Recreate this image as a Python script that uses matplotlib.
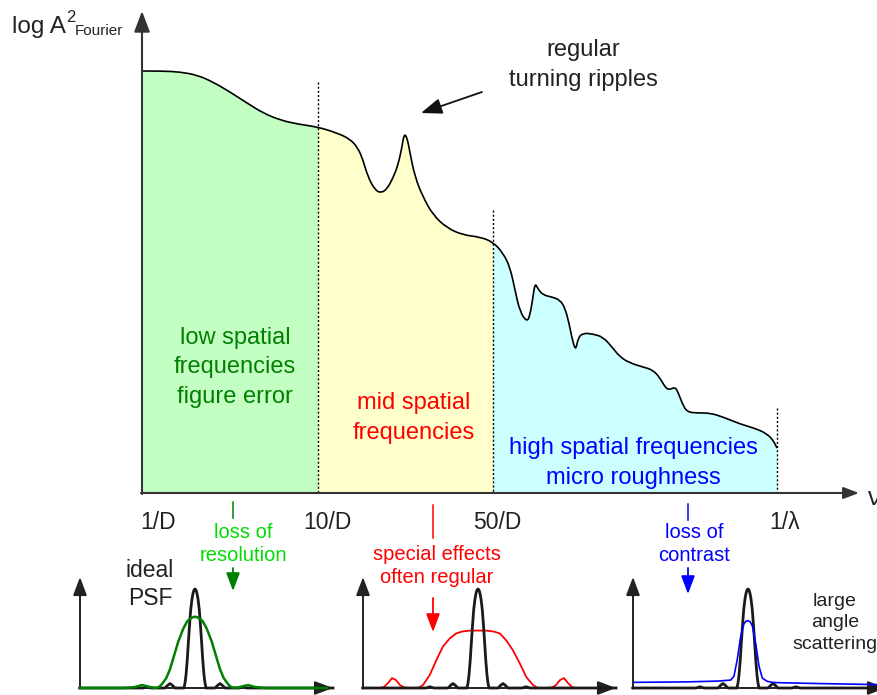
import numpy as np
import matplotlib
matplotlib.use("Agg")
import matplotlib.pyplot as plt
from matplotlib.path import Path
from matplotlib.patches import PathPatch

plt.rcParams['font.family'] = ['Liberation Sans', 'DejaVu Sans']

# Schematic PSD curve (pixel-like units, y grows downward)
spec_x = [142, 163, 180, 197, 213, 230, 247, 263, 280, 297, 318, 337, 350, 358, 363, 368, 375, 381, 387, 393,
          398, 402, 404, 407, 410, 415, 423, 433, 447, 463, 480, 493, 503, 510, 515, 520, 527, 530, 533, 535,
          538, 543, 552, 560, 565, 569, 573, 576, 578, 583, 593, 603, 612, 620, 630, 643, 653, 660, 665, 669,
          675, 678, 682, 687, 697, 710, 723, 740, 757, 767, 773, 777]
spec_y = [71, 71, 72, 75, 82, 92, 103, 113, 120, 124, 127, 133, 139, 148, 160, 177, 190, 193, 189, 178,
          165, 147, 134, 137, 153, 177, 197, 215, 228, 235, 237, 242, 253, 267, 290, 312, 322, 315, 297, 283,
          289, 295, 297, 300, 308, 323, 343, 350, 338, 333, 334, 337, 347, 357, 363, 367, 370, 378, 387, 390,
          387, 392, 403, 412, 413, 413, 417, 424, 429, 434, 440, 448]
x_base = 493
region_edges = [142, 318, 493, 777]
region_colors = ['#c3ffc3', '#ffffcc', '#ccffff']
divider_tops = [82, 210, 408]
freq_labels = ['1/D', '10/D', '50/D', '1/\u03bb']

# PSF sketches: offset from peak vs. intensity (ideal peak = 1)
ideal_x = [-115, -60, -52, -48, -44, -36, -30, -27, -25, -23, -20, -15, -11, -10, -9, -7.7, -6.7, -5.5, -4.3, -3,
           -2, -1, 0, 1, 2, 3, 4.3, 5.5, 6.7, 7.7, 9, 10, 11, 15, 20, 23, 25, 27, 30, 36,
           44, 48, 52, 60, 138]
ideal_y = [0, 0, 0, 0.012, 0, 0, 0, 0.03, 0.045, 0.03, 0, 0, 0, 0.05, 0.13, 0.29, 0.45, 0.63, 0.79, 0.9,
           0.955, 0.99, 1.0, 0.99, 0.955, 0.9, 0.79, 0.63, 0.45, 0.29, 0.13, 0.05, 0, 0, 0, 0.03, 0.045, 0.03, 0, 0,
           0, 0.012, 0, 0, 0]
blur_x = [-115, -70, -60, -53, -46, -40, -36, -33, -28.7, -25, -21.7, -16.7, -11.7, -8, -5, -2, 0, 2, 5, 8,
          11.7, 16.7, 21.7, 25, 28.7, 33, 36, 40, 46, 53, 60, 70, 132]
blur_y = [0, 0, 0.01, 0.03, 0.012, 0, 0.01, 0.04, 0.1, 0.19, 0.3, 0.47, 0.6, 0.67, 0.70, 0.715, 0.72, 0.715, 0.70, 0.67,
          0.6, 0.47, 0.3, 0.19, 0.1, 0.04, 0.01, 0, 0.012, 0.03, 0.01, 0, 0]
effects_x = [-115, -98, -94, -90, -86, -82, -78, -74, -66, -60, -55, -48.3, -41.7, -35, -28.3, -22, -16, -8, 0, 8,
             16, 22, 28.3, 35, 41.7, 48.3, 55, 60, 66, 74, 78, 82, 86, 90, 94, 98, 112]
effects_y = [0, 0, 0.01, 0.05, 0.10, 0.08, 0.03, 0.005, 0, 0, 0.03, 0.13, 0.28, 0.42, 0.50, 0.55, 0.57, 0.58, 0.58, 0.58,
             0.57, 0.55, 0.48, 0.38, 0.25, 0.11, 0.03, 0, 0, 0.005, 0.03, 0.08, 0.10, 0.05, 0.01, 0, 0]
scatter_x = [-114, -60, -30, -17.3, -14, -10.7, -7.3, -4, -2, 0, 2, 4.3, 7.7, 11, 14.3, 19.3, 26, 60, 130]
scatter_y = [0.057, 0.062, 0.07, 0.08, 0.12, 0.29, 0.52, 0.65, 0.675, 0.68, 0.67, 0.63, 0.45, 0.22, 0.10, 0.067,
             0.055, 0.047, 0.034]

W, H = 877, 695
AX_C = '#333333'
TXT = '#222222'
GREEN, LGREEN, RED, BLUE = '#008000', '#00dd00', '#ff0000', '#0000ff'


def head(scale, color, lw=1.3):
    return dict(arrowstyle='-|>,head_length=0.85,head_width=0.32', color=color, lw=lw,
                mutation_scale=scale, shrinkA=0, shrinkB=0)


def smooth_path(xs, ys):
    # quadratic bezier through midpoints, read points act as control points
    pts = np.column_stack([xs, ys])
    verts = [pts[0]]
    codes = [Path.MOVETO]
    for i in range(1, len(pts) - 1):
        verts += [pts[i], (pts[i] + pts[i + 1]) / 2]
        codes += [Path.CURVE3, Path.CURVE3]
    verts.append(pts[-1])
    codes.append(Path.LINETO)
    return verts, codes


fig = plt.figure(figsize=(W / 100, H / 100), dpi=100)
ax = fig.add_axes([0, 0, 1, 1])
ax.set_xlim(0, W)
ax.set_ylim(H, 0)
ax.axis('off')

verts, codes = smooth_path(spec_x, spec_y)
area = PathPatch(Path(verts + [(spec_x[-1], x_base), (spec_x[0], x_base), verts[0]],
                      codes + [Path.LINETO, Path.LINETO, Path.CLOSEPOLY]),
                 fc='none', ec='none', transform=ax.transData)
ax.add_patch(area)
for lo, hi, c in zip(region_edges[:-1], region_edges[1:], region_colors):
    band = ax.fill_between([lo, hi], [0, 0], x_base, color=c, lw=0, zorder=1)
    band.set_clip_path(area)
ax.add_patch(PathPatch(Path(verts, codes), fc='none', ec='black', lw=1.2, zorder=3))

for xe, top in zip(region_edges[1:], divider_tops):
    ax.plot([xe, xe], [top, x_base], color='black', lw=1, ls=(0, (1.5, 1.5)), zorder=2)

# main axes arrows
ax.annotate('', xy=(142, 11), xytext=(142, x_base + 1), arrowprops=head(15, AX_C, 1.5), zorder=4)
ax.annotate('', xy=(859, x_base), xytext=(141, x_base), arrowprops=head(11, AX_C, 1.5), zorder=4)

ax.text(12, 33, 'log A', fontsize=17.5, color=TXT, va='baseline')
ax.text(66, 22, '2', fontsize=12, color=TXT, va='baseline')
ax.text(75, 35, 'Fourier', fontsize=11, color=TXT, va='baseline')
ax.text(868, 505, '\u03bd', fontsize=18, color=TXT, va='baseline')

label_x = [158, 327, 497, 785]
for lx, lab in zip(label_x, freq_labels):
    ax.text(lx, 529, lab, fontsize=16.5, color=TXT, ha='center', va='baseline')

# multi-line texts: y is the baseline of the last line
ax.text(235, 403, 'low spatial\nfrequencies\nfigure error', fontsize=17, color=GREEN,
        ha='center', va='baseline', linespacing=1.45)
ax.text(414, 439, 'mid spatial\nfrequencies', fontsize=17, color=RED,
        ha='center', va='baseline', linespacing=1.45)
ax.text(633, 484, 'high spatial frequencies\nmicro roughness', fontsize=17, color=BLUE,
        ha='center', va='baseline', linespacing=1.45)
ax.text(583, 86, 'regular\nturning ripples', fontsize=17, color=TXT,
        ha='center', va='baseline', linespacing=1.45)
ax.annotate('', xy=(421, 113), xytext=(482, 92), arrowprops=head(15, '#111111', 1.3))

# effect annotations
ann = [(233, 502, 518, 568, 591, 'loss of\nresolution', 243, 561, LGREEN, GREEN),
       (433, 505, 538, 598, 632, 'special effects\noften regular', 437, 583, RED, RED),
       (688, 504, 520, 568, 594, 'loss of\ncontrast', 694, 561, BLUE, BLUE)]
for x0, t0, t1, a0, a1, txt, tx, ty, tc, lc in ann:
    ax.plot([x0, x0], [t0, t1], color=lc, lw=1.1)
    ax.annotate('', xy=(x0, a1), xytext=(x0, a0), arrowprops=head(13, lc, 1.3))
    ax.text(tx, ty, txt, fontsize=14.5, color=tc, ha='center', va='baseline', linespacing=1.3)

ax.text(150, 605, 'ideal\nPSF', fontsize=16.5, color=TXT, ha='center', va='baseline', linespacing=1.3)
ax.text(835, 649, 'large\nangle\nscattering', fontsize=14, color=TXT, ha='center', va='baseline',
        linespacing=1.35)

# PSF insets
insets = [(80, blur_x, blur_y, GREEN, 1.8, True),
          (363, effects_x, effects_y, RED, 1.3, False),
          (633, scatter_x, scatter_y, BLUE, 1.2, True)]
for left, cx, cy, col, lw, on_top in insets:
    iax = fig.add_axes([left / W, (H - 688) / H, 253 / W, 111 / H])
    iax.set_xlim(-115, 138)
    iax.set_ylim(0, 1.121)
    iax.axis('off')
    iax.annotate('', xy=(-115, 1.121), xytext=(-115, -0.005), arrowprops=head(13, TXT, 1.4),
                 annotation_clip=False)
    iax.annotate('', xy=(138, 0), xytext=(-116, 0), arrowprops=head(13, TXT, 1.4),
                 annotation_clip=False)
    iax.plot(ideal_x, ideal_y, color='#1a1a1a', lw=2, clip_on=False, zorder=3)
    iax.plot(cx, cy, color=col, lw=lw, clip_on=False, zorder=4 if on_top else 2)

fig.savefig('out.png', dpi=100)
